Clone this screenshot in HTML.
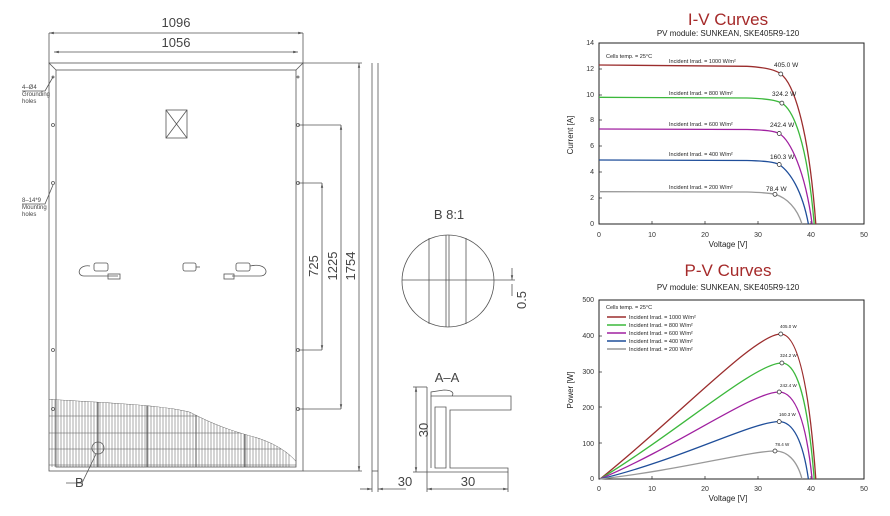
<!DOCTYPE html>
<html><head><meta charset="utf-8"><style>
html,body{margin:0;padding:0;background:#fff;}
svg{display:block;font-family:"Liberation Sans",sans-serif;}
</style></head><body>
<svg width="890" height="516" viewBox="0 0 890 516" xmlns="http://www.w3.org/2000/svg">
<defs>
<clipPath id="cg"><path d="M49,399 C90,402 160,404 190,412 C215,425 230,430 255,437 C275,443 288,452 296,461 L296,467 L49,467 Z"/></clipPath>
<marker id="ar" viewBox="0 0 6 6" refX="6" refY="3" markerWidth="6" markerHeight="6" orient="auto-start-reverse"><path d="M0,1.5 L6,3 L0,4.5Z" fill="#555"/></marker>
</defs>
<g stroke="#555" fill="none" stroke-width="0.8">
<!-- top dims -->
<line x1="49" y1="33" x2="303" y2="33" marker-start="url(#ar)" marker-end="url(#ar)"/>
<line x1="54" y1="52" x2="298" y2="52" marker-start="url(#ar)" marker-end="url(#ar)"/>
<line x1="49" y1="33" x2="49" y2="63"/><line x1="303" y1="33" x2="303" y2="63"/>
<!-- frame -->
<rect x="49" y="63" width="254" height="408"/>
<rect x="56" y="70" width="240" height="397"/>
<line x1="49" y1="63" x2="56" y2="70"/><line x1="303" y1="63" x2="296" y2="70"/>
<!-- right dims -->
<line x1="303" y1="63" x2="362" y2="63"/><line x1="303" y1="471" x2="362" y2="471"/>
<line x1="359" y1="63" x2="359" y2="471" marker-start="url(#ar)" marker-end="url(#ar)"/>
<line x1="298" y1="125" x2="341" y2="125"/><line x1="298" y1="409" x2="341" y2="409"/>
<line x1="341" y1="125" x2="341" y2="409" marker-start="url(#ar)" marker-end="url(#ar)"/>
<line x1="298" y1="183" x2="322" y2="183"/><line x1="298" y1="350" x2="322" y2="350"/>
<line x1="322" y1="183" x2="322" y2="350" marker-start="url(#ar)" marker-end="url(#ar)"/>
<!-- holes -->
<circle cx="298" cy="125" r="1.5"/><circle cx="298" cy="183" r="1.5"/><circle cx="298" cy="350" r="1.5"/><circle cx="298" cy="409" r="1.5"/>
<circle cx="53" cy="125" r="1.5"/><circle cx="53" cy="183" r="1.5"/><circle cx="53" cy="350" r="1.5"/><circle cx="53" cy="409" r="1.5"/>
<circle cx="53" cy="77" r="1"/><circle cx="298" cy="77" r="1"/>
<!-- leaders -->
<path d="M22,91 L45,91 L53,77"/><path d="M22,204 L45,204 L53,185"/>
<!-- junction box -->
<rect x="166" y="110" width="21" height="28"/><line x1="166" y1="110" x2="187" y2="138"/><line x1="187" y1="110" x2="166" y2="138"/>
<!-- connectors -->
<path d="M90,266 C78,264 76,276 84,276 L118,276"/><rect x="94" y="263" width="14" height="8" rx="2"/><rect x="108" y="274" width="12" height="5"/>
<rect x="183" y="263" width="13" height="8" rx="2"/><path d="M196,267 L200,267"/>
<rect x="236" y="263" width="14" height="8" rx="2"/><path d="M250,266 C268,262 270,276 260,276 L232,276"/><rect x="224" y="274" width="10" height="5"/>
<!-- cell grid -->
<g clip-path="url(#cg)" stroke-width="0.5">
<path d="M49,399 C90,402 160,404 190,412 C215,425 230,430 255,437 C275,443 288,452 296,461" stroke-width="0.8"/>
<g id="vl">
<line x1="52" y1="395" x2="52" y2="467"/><line x1="55" y1="395" x2="55" y2="467"/><line x1="58" y1="395" x2="58" y2="467"/><line x1="61" y1="395" x2="61" y2="467"/><line x1="64" y1="395" x2="64" y2="467"/><line x1="67" y1="395" x2="67" y2="467"/><line x1="70" y1="395" x2="70" y2="467"/><line x1="73" y1="395" x2="73" y2="467"/><line x1="76" y1="395" x2="76" y2="467"/><line x1="79" y1="395" x2="79" y2="467"/><line x1="82" y1="395" x2="82" y2="467"/><line x1="85" y1="395" x2="85" y2="467"/><line x1="88" y1="395" x2="88" y2="467"/><line x1="91" y1="395" x2="91" y2="467"/><line x1="94" y1="395" x2="94" y2="467"/><line x1="97" y1="395" x2="97" y2="467"/>
</g>
<use href="#vl" x="48"/><use href="#vl" x="96"/><use href="#vl" x="144"/><use href="#vl" x="192"/>
<line x1="98" y1="395" x2="98" y2="467" stroke-width="1"/><line x1="147" y1="395" x2="147" y2="467" stroke-width="1"/><line x1="196" y1="395" x2="196" y2="467" stroke-width="1"/><line x1="245" y1="395" x2="245" y2="467" stroke-width="1"/>
<line x1="49" y1="416" x2="296" y2="416"/><line x1="49" y1="433" x2="296" y2="433"/><line x1="49" y1="449" x2="296" y2="449"/><line x1="49" y1="465" x2="296" y2="465"/>
</g>
<circle cx="98" cy="448" r="6"/><path d="M96,454 L82,483 L66,483"/>
<!-- side view -->
<line x1="372" y1="63" x2="372" y2="471"/><line x1="378" y1="63" x2="378" y2="471"/><line x1="372" y1="471" x2="378" y2="471"/>
<line x1="372" y1="471" x2="372" y2="492"/><line x1="378" y1="471" x2="378" y2="492"/>
<line x1="360" y1="489" x2="372" y2="489" marker-end="url(#ar)"/><line x1="378" y1="489" x2="406" y2="489" marker-start="url(#ar)"/>
<!-- detail B -->
<circle cx="448" cy="281" r="46"/>
<line x1="402" y1="280" x2="494" y2="280"/>
<line x1="429" y1="238" x2="429" y2="324"/><line x1="446" y1="235" x2="446" y2="327"/><line x1="449" y1="235" x2="449" y2="327"/><line x1="466" y1="238" x2="466" y2="324"/>
<line x1="494" y1="280" x2="515" y2="280"/><line x1="512" y1="268" x2="512" y2="280" marker-end="url(#ar)"/><line x1="512" y1="284" x2="512" y2="296"/>
<!-- A-A section -->
<path d="M427,387 L427,472 L508,472 L508,468 L450,468 L450,410 L511,410 L511,396 L431,396 L431,392 L444,390 C450,390 455,392 452,396"/>
<path d="M431,396 L431,468 M435,407 L435,468 L446,468 L446,407 Z"/>
<line x1="427" y1="387" x2="413" y2="387"/><line x1="427" y1="472" x2="413" y2="472"/>
<line x1="416" y1="387" x2="416" y2="472" marker-start="url(#ar)" marker-end="url(#ar)"/>
<line x1="427" y1="472" x2="427" y2="492"/><line x1="508" y1="472" x2="508" y2="492"/>
<line x1="427" y1="489" x2="508" y2="489" marker-start="url(#ar)" marker-end="url(#ar)"/>
</g>
<g fill="#444" font-size="13">
<text x="176" y="27" text-anchor="middle">1096</text>
<text x="176" y="47" text-anchor="middle">1056</text>
<text x="449" y="219" text-anchor="middle">B 8:1</text>
<text x="447" y="382" text-anchor="middle">A–A</text>
<text x="405" y="486" text-anchor="middle">30</text>
<text x="468" y="486" text-anchor="middle">30</text>
<text x="75" y="487">B</text>
<text transform="translate(318,266) rotate(-90)" text-anchor="middle">725</text>
<text transform="translate(337,266) rotate(-90)" text-anchor="middle">1225</text>
<text transform="translate(355,266) rotate(-90)" text-anchor="middle">1754</text>
<text transform="translate(526,300) rotate(-90)" text-anchor="middle">0.5</text>
<text transform="translate(428,430) rotate(-90)" text-anchor="middle">30</text>
</g>
<g fill="#444" font-size="6">
<text x="22" y="89">4–Ø4</text><text x="22" y="96">Grounding</text><text x="22" y="103">holes</text>
<text x="22" y="202">8–14*9</text><text x="22" y="209">Mounting</text><text x="22" y="216">holes</text>
</g>

<!-- I-V chart -->
<text x="728" y="25" text-anchor="middle" font-size="17" fill="#a52a2a">I-V Curves</text>
<text x="728" y="36" text-anchor="middle" font-size="8" fill="#222">PV module: SUNKEAN, SKE405R9-120</text>
<rect x="599" y="43" width="265" height="181" fill="none" stroke="#222" stroke-width="1"/>
<g font-size="7" fill="#333" text-anchor="end">
<text x="594" y="226">0</text><text x="594" y="200">2</text><text x="594" y="174">4</text><text x="594" y="148">6</text><text x="594" y="122">8</text><text x="594" y="97">10</text><text x="594" y="71">12</text><text x="594" y="45">14</text>
</g>
<g font-size="7" fill="#333" text-anchor="middle">
<text x="599" y="237">0</text><text x="652" y="237">10</text><text x="705" y="237">20</text><text x="758" y="237">30</text><text x="811" y="237">40</text><text x="864" y="237">50</text>
</g>
<text x="728" y="247" text-anchor="middle" font-size="8" fill="#222">Voltage [V]</text>
<text transform="translate(573,135) rotate(-90)" text-anchor="middle" font-size="8" fill="#222">Current [A]</text>
<g stroke="#222" stroke-width="0.7">
<line x1="599" y1="198" x2="602" y2="198"/><line x1="599" y1="172" x2="602" y2="172"/><line x1="599" y1="146" x2="602" y2="146"/><line x1="599" y1="120" x2="602" y2="120"/><line x1="599" y1="95" x2="602" y2="95"/><line x1="599" y1="69" x2="602" y2="69"/>
<line x1="652" y1="224" x2="652" y2="221"/><line x1="705" y1="224" x2="705" y2="221"/><line x1="758" y1="224" x2="758" y2="221"/><line x1="811" y1="224" x2="811" y2="221"/>
</g>
<g fill="none" stroke-width="1.3">
<path stroke="#9b2d2d" d="M599,65 L747,66.3 C768,67.5 777,70.8 780.8,74 C792,82 808,120 815.8,224"/>
<path stroke="#3cb83c" d="M599,97.3 L747,98 C768,98.5 777,100.5 781.9,103.1 C793,110 807,140 814.2,224"/>
<path stroke="#a020a0" d="M599,129 L747,129.5 C766,130 774,131 779.2,133.5 C790,140 805,170 812.1,224"/>
<path stroke="#1f4e9a" d="M599,160 L747,160.5 C766,161 774,162 779.2,164.5 C790,172 802,190 808.4,224"/>
<path stroke="#999" d="M599,191.7 L747,192 C764,192.5 770,193 775,194.3 C787,198 797,208 802,224"/>
</g>
<g fill="#fff" stroke="#222" stroke-width="0.7">
<circle cx="780.8" cy="74" r="2"/><circle cx="781.9" cy="103.1" r="2"/><circle cx="779.2" cy="133.5" r="2"/><circle cx="779.2" cy="164.5" r="2"/><circle cx="775" cy="194.3" r="2"/>
</g>
<g font-size="5.5" fill="#222">
<text x="606" y="58">Cells temp. = 25°C</text>
<text x="669" y="63">Incident Irrad. = 1000 W/m²</text>
<text x="669" y="95">Incident Irrad. = 800 W/m²</text>
<text x="669" y="126">Incident Irrad. = 600 W/m²</text>
<text x="669" y="156">Incident Irrad. = 400 W/m²</text>
<text x="669" y="189">Incident Irrad. = 200 W/m²</text>
</g>
<g font-size="6.5" fill="#222">
<text x="774" y="67">405.0 W</text><text x="772" y="96">324.2 W</text><text x="770" y="127">242.4 W</text><text x="770" y="159">160.3 W</text><text x="766" y="191">78.4 W</text>
</g>

<!-- P-V chart -->
<text x="728" y="276" text-anchor="middle" font-size="17" fill="#a52a2a">P-V Curves</text>
<text x="728" y="290" text-anchor="middle" font-size="8" fill="#222">PV module: SUNKEAN, SKE405R9-120</text>
<rect x="599" y="300" width="265" height="179" fill="none" stroke="#222" stroke-width="1"/>
<g font-size="7" fill="#333" text-anchor="end">
<text x="594" y="481">0</text><text x="594" y="446">100</text><text x="594" y="410">200</text><text x="594" y="374">300</text><text x="594" y="338">400</text><text x="594" y="302">500</text>
</g>
<g font-size="7" fill="#333" text-anchor="middle">
<text x="599" y="491">0</text><text x="652" y="491">10</text><text x="705" y="491">20</text><text x="758" y="491">30</text><text x="811" y="491">40</text><text x="864" y="491">50</text>
</g>
<text x="728" y="501" text-anchor="middle" font-size="8" fill="#222">Voltage [V]</text>
<text transform="translate(573,390) rotate(-90)" text-anchor="middle" font-size="8" fill="#222">Power [W]</text>
<g stroke="#222" stroke-width="0.7">
<line x1="599" y1="443" x2="602" y2="443"/><line x1="599" y1="407" x2="602" y2="407"/><line x1="599" y1="372" x2="602" y2="372"/><line x1="599" y1="336" x2="602" y2="336"/>
<line x1="652" y1="479" x2="652" y2="476"/><line x1="705" y1="479" x2="705" y2="476"/><line x1="758" y1="479" x2="758" y2="476"/><line x1="811" y1="479" x2="811" y2="476"/>
</g>
<g fill="none" stroke-width="1.3">
<path stroke="#9b2d2d" d="M600,479 C680,415 755,334 780.8,334 C795,334 808,370 815.8,479"/>
<path stroke="#3cb83c" d="M600,479 C680,430 755,363 781.9,363 C795,363 807,390 814.2,479"/>
<path stroke="#a020a0" d="M600,479 C680,445 752,392 779.2,392 C792,392 805,410 812.1,479"/>
<path stroke="#1f4e9a" d="M600,479 C680,460 752,421.6 779.2,421.6 C791,421.6 802,435 808.4,479"/>
<path stroke="#999" d="M600,479 C680,470 750,451 775,451 C787,451 797,460 802,479"/>
</g>
<g fill="#fff" stroke="#222" stroke-width="0.7">
<circle cx="780.8" cy="334" r="2"/><circle cx="781.9" cy="363" r="2"/><circle cx="779.2" cy="392" r="2"/><circle cx="779.2" cy="421.6" r="2"/><circle cx="775" cy="451" r="2"/>
</g>
<g font-size="4.5" fill="#222">
<text x="780" y="328">405.0 W</text><text x="780" y="357">324.2 W</text><text x="780" y="387">242.4 W</text><text x="779" y="416">160.3 W</text><text x="775" y="446">78.4 W</text>
</g>
<g font-size="5.5" fill="#222">
<text x="606" y="309">Cells temp. = 25°C</text>
<text x="629" y="319">Incident Irrad. = 1000 W/m²</text>
<text x="629" y="327">Incident Irrad. = 800 W/m²</text>
<text x="629" y="335">Incident Irrad. = 600 W/m²</text>
<text x="629" y="343">Incident Irrad. = 400 W/m²</text>
<text x="629" y="351">Incident Irrad. = 200 W/m²</text>
</g>
<g stroke-width="1.5">
<line x1="607" y1="317" x2="626" y2="317" stroke="#9b2d2d"/>
<line x1="607" y1="325" x2="626" y2="325" stroke="#3cb83c"/>
<line x1="607" y1="333" x2="626" y2="333" stroke="#a020a0"/>
<line x1="607" y1="341" x2="626" y2="341" stroke="#1f4e9a"/>
<line x1="607" y1="349" x2="626" y2="349" stroke="#999"/>
</g>
</svg>
</body></html>
